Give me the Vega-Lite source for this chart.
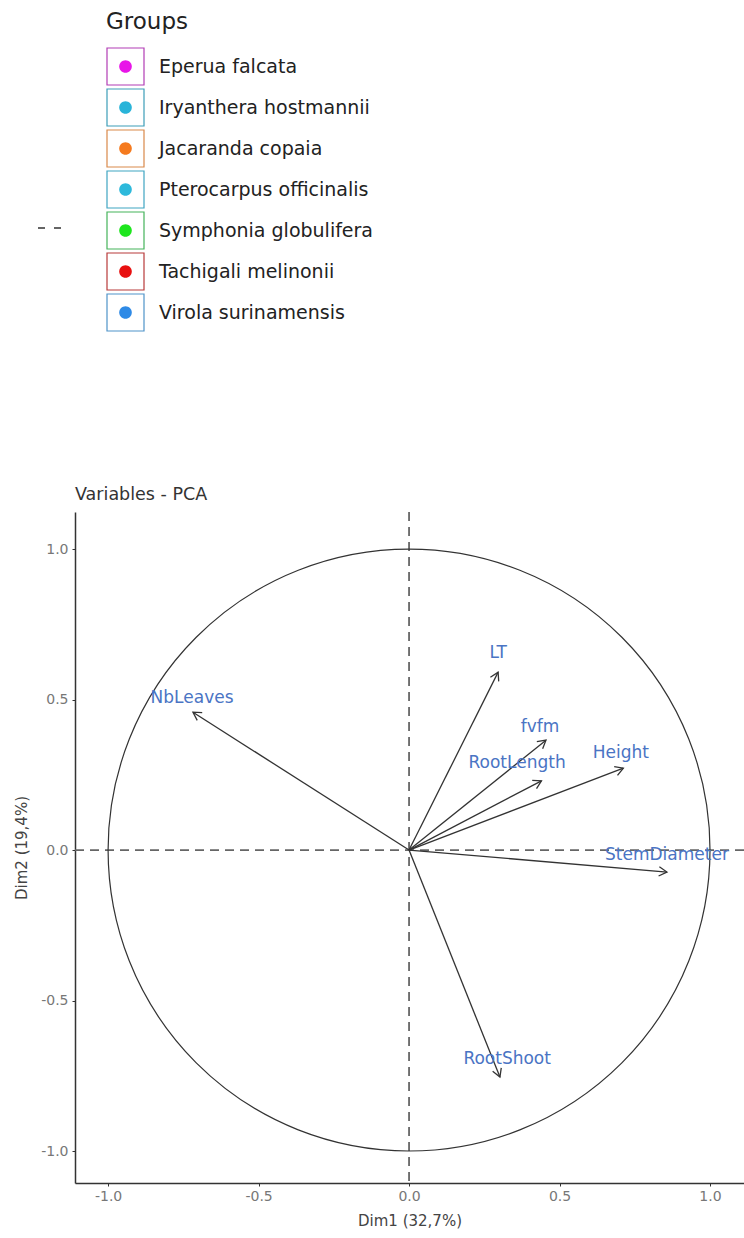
{
  "$schema": "https://vega.github.io/schema/vega-lite/v6.json",
  "autosize": {"type": "none"},
  "padding": {"left": 75, "top": 512, "right": 0, "bottom": 55},
  "width": 669,
  "height": 671,
  "background": "white",
  "title": {"text": "Variables - PCA", "anchor": "start", "frame": "group", "font": "DejaVu Sans", "fontSize": 17.5, "fontWeight": "normal", "color": "#333333", "baseline": "alphabetic", "offset": 11, "dy": 517},
  "datasets": {
    "vars": [
      {"variable": "NbLeaves", "x": -0.718, "y": 0.458, "label_x": -0.721, "label_y": 0.505},
      {"variable": "LT", "x": 0.296, "y": 0.591, "label_x": 0.296, "label_y": 0.654},
      {"variable": "fvfm", "x": 0.455, "y": 0.365, "label_x": 0.435, "label_y": 0.409},
      {"variable": "RootLength", "x": 0.44, "y": 0.23, "label_x": 0.359, "label_y": 0.289},
      {"variable": "Height", "x": 0.712, "y": 0.272, "label_x": 0.704, "label_y": 0.322},
      {"variable": "StemDiameter", "x": 0.857, "y": -0.073, "label_x": 0.857, "label_y": -0.017},
      {"variable": "RootShoot", "x": 0.302, "y": -0.754, "label_x": 0.326, "label_y": -0.694}
    ],
    "groups": [
      {"group": "Eperua falcata"},
      {"group": "Iryanthera hostmannii"},
      {"group": "Jacaranda copaia"},
      {"group": "Pterocarpus officinalis"},
      {"group": "Symphonia globulifera"},
      {"group": "Tachigali melinonii"},
      {"group": "Virola surinamensis"}
    ],
    "linetype": [{"linetype": "dashed"}],
    "origin": [{"x": 0, "y": 0}]
  },
  "layer": [
    {
      "data": {"name": "origin"},
      "mark": {"type": "rule", "strokeDash": [9, 6], "color": "#666666", "strokeWidth": 1.8},
      "encoding": {
        "x": {"field": "x", "type": "quantitative", "scale": {"domain": [-1.11, 1.113], "nice": false, "zero": false},
          "axis": {"values": [-1, -0.5, 0, 0.5, 1], "labelExpr": "datum.value < 0 ? '-' + format(-datum.value, '.1f') : format(datum.value, '.1f')", "grid": false, "domainColor": "#333333", "domainWidth": 1.5, "ticks": true, "tickSize": 3, "tickColor": "#333333", "labelFont": "DejaVu Sans", "labelFontSize": 14, "labelColor": "#777777", "labelPadding": 3, "title": "Dim1 (32,7%)", "titleFont": "DejaVu Sans", "titleFontSize": 15, "titleFontWeight": "normal", "titleColor": "#444444", "titlePadding": 10}}
      }
    },
    {
      "data": {"name": "origin"},
      "mark": {"type": "rule", "strokeDash": [9, 6], "color": "#666666", "strokeWidth": 1.8},
      "encoding": {
        "y": {"field": "y", "type": "quantitative", "scale": {"domain": [-1.106, 1.123], "nice": false, "zero": false},
          "axis": {"values": [-1, -0.5, 0, 0.5, 1], "labelExpr": "datum.value < 0 ? '-' + format(-datum.value, '.1f') : format(datum.value, '.1f')", "grid": false, "domainColor": "#333333", "domainWidth": 1.5, "ticks": true, "tickSize": 3, "tickColor": "#333333", "labelFont": "DejaVu Sans", "labelFontSize": 14, "labelColor": "#777777", "labelPadding": 4, "title": "Dim2 (19,4%)", "titleFont": "DejaVu Sans", "titleFontSize": 15, "titleFontWeight": "normal", "titleColor": "#444444", "titlePadding": 11}}
      }
    },
    {
      "data": {"name": "origin"},
      "mark": {"type": "point", "shape": "circle", "filled": false, "stroke": "#333333", "strokeWidth": 1.2, "opacity": 1, "size": 362300},
      "encoding": {
        "x": {"field": "x", "type": "quantitative", "scale": {"domain": [-1.11, 1.113], "nice": false, "zero": false},
          "axis": {"values": [-1, -0.5, 0, 0.5, 1], "labelExpr": "datum.value < 0 ? '-' + format(-datum.value, '.1f') : format(datum.value, '.1f')", "grid": false, "domainColor": "#333333", "domainWidth": 1.5, "ticks": true, "tickSize": 3, "tickColor": "#333333", "labelFont": "DejaVu Sans", "labelFontSize": 14, "labelColor": "#777777", "labelPadding": 3, "title": "Dim1 (32,7%)", "titleFont": "DejaVu Sans", "titleFontSize": 15, "titleFontWeight": "normal", "titleColor": "#444444", "titlePadding": 10}},
        "y": {"field": "y", "type": "quantitative", "scale": {"domain": [-1.106, 1.123], "nice": false, "zero": false},
          "axis": {"values": [-1, -0.5, 0, 0.5, 1], "labelExpr": "datum.value < 0 ? '-' + format(-datum.value, '.1f') : format(datum.value, '.1f')", "grid": false, "domainColor": "#333333", "domainWidth": 1.5, "ticks": true, "tickSize": 3, "tickColor": "#333333", "labelFont": "DejaVu Sans", "labelFontSize": 14, "labelColor": "#777777", "labelPadding": 4, "title": "Dim2 (19,4%)", "titleFont": "DejaVu Sans", "titleFontSize": 15, "titleFontWeight": "normal", "titleColor": "#444444", "titlePadding": 11}}
      }
    },
    {
      "data": {"name": "vars"},
      "mark": {"type": "rule", "color": "#333333", "strokeWidth": 1.3},
      "encoding": {
        "x": {"field": "x", "type": "quantitative", "scale": {"domain": [-1.11, 1.113], "nice": false, "zero": false},
          "axis": {"values": [-1, -0.5, 0, 0.5, 1], "labelExpr": "datum.value < 0 ? '-' + format(-datum.value, '.1f') : format(datum.value, '.1f')", "grid": false, "domainColor": "#333333", "domainWidth": 1.5, "ticks": true, "tickSize": 3, "tickColor": "#333333", "labelFont": "DejaVu Sans", "labelFontSize": 14, "labelColor": "#777777", "labelPadding": 3, "title": "Dim1 (32,7%)", "titleFont": "DejaVu Sans", "titleFontSize": 15, "titleFontWeight": "normal", "titleColor": "#444444", "titlePadding": 10}},
        "y": {"field": "y", "type": "quantitative", "scale": {"domain": [-1.106, 1.123], "nice": false, "zero": false},
          "axis": {"values": [-1, -0.5, 0, 0.5, 1], "labelExpr": "datum.value < 0 ? '-' + format(-datum.value, '.1f') : format(datum.value, '.1f')", "grid": false, "domainColor": "#333333", "domainWidth": 1.5, "ticks": true, "tickSize": 3, "tickColor": "#333333", "labelFont": "DejaVu Sans", "labelFontSize": 14, "labelColor": "#777777", "labelPadding": 4, "title": "Dim2 (19,4%)", "titleFont": "DejaVu Sans", "titleFontSize": 15, "titleFontWeight": "normal", "titleColor": "#444444", "titlePadding": 11}},
        "x2": {"datum": 0},
        "y2": {"datum": 0}
      }
    },
    {
      "data": {"name": "vars"},
      "transform": [{"calculate": "atan2(datum.x, datum.y) * 180 / PI", "as": "angle"}],
      "mark": {"type": "point", "shape": "M-0.58,1L0,0L0.58,1", "filled": false, "stroke": "#333333", "strokeWidth": 1.3, "size": 256, "opacity": 1},
      "encoding": {
        "x": {"field": "x", "type": "quantitative", "scale": {"domain": [-1.11, 1.113], "nice": false, "zero": false},
          "axis": {"values": [-1, -0.5, 0, 0.5, 1], "labelExpr": "datum.value < 0 ? '-' + format(-datum.value, '.1f') : format(datum.value, '.1f')", "grid": false, "domainColor": "#333333", "domainWidth": 1.5, "ticks": true, "tickSize": 3, "tickColor": "#333333", "labelFont": "DejaVu Sans", "labelFontSize": 14, "labelColor": "#777777", "labelPadding": 3, "title": "Dim1 (32,7%)", "titleFont": "DejaVu Sans", "titleFontSize": 15, "titleFontWeight": "normal", "titleColor": "#444444", "titlePadding": 10}},
        "y": {"field": "y", "type": "quantitative", "scale": {"domain": [-1.106, 1.123], "nice": false, "zero": false},
          "axis": {"values": [-1, -0.5, 0, 0.5, 1], "labelExpr": "datum.value < 0 ? '-' + format(-datum.value, '.1f') : format(datum.value, '.1f')", "grid": false, "domainColor": "#333333", "domainWidth": 1.5, "ticks": true, "tickSize": 3, "tickColor": "#333333", "labelFont": "DejaVu Sans", "labelFontSize": 14, "labelColor": "#777777", "labelPadding": 4, "title": "Dim2 (19,4%)", "titleFont": "DejaVu Sans", "titleFontSize": 15, "titleFontWeight": "normal", "titleColor": "#444444", "titlePadding": 11}},
        "angle": {"field": "angle", "type": "quantitative", "scale": null}
      }
    },
    {
      "data": {"name": "vars"},
      "mark": {"type": "text", "font": "DejaVu Sans", "fontSize": 17, "color": "#4A74C4", "baseline": "middle", "align": "center"},
      "encoding": {
        "x": {"field": "label_x", "type": "quantitative", "scale": {"domain": [-1.11, 1.113], "nice": false, "zero": false},
          "axis": {"values": [-1, -0.5, 0, 0.5, 1], "labelExpr": "datum.value < 0 ? '-' + format(-datum.value, '.1f') : format(datum.value, '.1f')", "grid": false, "domainColor": "#333333", "domainWidth": 1.5, "ticks": true, "tickSize": 3, "tickColor": "#333333", "labelFont": "DejaVu Sans", "labelFontSize": 14, "labelColor": "#777777", "labelPadding": 3, "title": "Dim1 (32,7%)", "titleFont": "DejaVu Sans", "titleFontSize": 15, "titleFontWeight": "normal", "titleColor": "#444444", "titlePadding": 10}},
        "y": {"field": "label_y", "type": "quantitative", "scale": {"domain": [-1.106, 1.123], "nice": false, "zero": false},
          "axis": {"values": [-1, -0.5, 0, 0.5, 1], "labelExpr": "datum.value < 0 ? '-' + format(-datum.value, '.1f') : format(datum.value, '.1f')", "grid": false, "domainColor": "#333333", "domainWidth": 1.5, "ticks": true, "tickSize": 3, "tickColor": "#333333", "labelFont": "DejaVu Sans", "labelFontSize": 14, "labelColor": "#777777", "labelPadding": 4, "title": "Dim2 (19,4%)", "titleFont": "DejaVu Sans", "titleFontSize": 15, "titleFontWeight": "normal", "titleColor": "#444444", "titlePadding": 11}},
        "text": {"field": "variable"}
      }
    },
    {
      "data": {"name": "groups"},
      "mark": {"type": "point", "shape": "square", "filled": false, "opacity": 0},
      "encoding": {
        "stroke": {"field": "group", "type": "nominal",
          "scale": {"domain": ["Eperua falcata", "Iryanthera hostmannii", "Jacaranda copaia", "Pterocarpus officinalis", "Symphonia globulifera", "Tachigali melinonii", "Virola surinamensis"],
                    "range": ["#B23DB5", "#3C9DB8", "#D9894A", "#3FA5C2", "#45B35A", "#B83A3A", "#4F93C9"]},
          "legend": {"orient": "none", "legendX": 31, "legendY": -501, "title": "Groups", "titleFont": "DejaVu Sans", "titleFontSize": 23, "titleFontWeight": "normal", "titleColor": "#222222", "titlePadding": 13,
            "labelFont": "DejaVu Sans", "labelFontSize": 19, "labelColor": "#222222", "labelOffset": 14, "labelLimit": 400,
            "symbolType": "square", "symbolSize": 1369, "symbolStrokeWidth": 1.2, "symbolOpacity": 1, "rowPadding": -2, "padding": 0,
            "encode": {"symbols": {"update": {"fill": {"scale": "color", "field": "value"}, "fillOpacity": {"value": 0.1}, "strokeOpacity": {"value": 1}, "opacity": {"value": 1}}}}}}
      }
    },
    {
      "data": {"name": "groups"},
      "mark": {"type": "point", "shape": "M-1,-1M1,1M-0.34,0A0.34,0.34,0,1,0,0.34,0A0.34,0.34,0,1,0,-0.34,0Z", "filled": true, "opacity": 0},
      "encoding": {
        "color": {"field": "group", "type": "nominal",
          "scale": {"range": ["#E815E8", "#29B4D9", "#F57A1E", "#2DB9DB", "#1EE61E", "#E81010", "#2E8AE6"]},
          "legend": {"orient": "none", "legendX": 31, "legendY": -501, "title": "Groups", "titleFont": "DejaVu Sans", "titleFontSize": 23, "titleFontWeight": "normal", "titleOpacity": 0, "titlePadding": 13,
            "labelFont": "DejaVu Sans", "labelFontSize": 19, "labelOpacity": 0, "labelOffset": 14, "labelLimit": 400,
            "symbolType": "M-1,-1M1,1M-0.34,0A0.34,0.34,0,1,0,0.34,0A0.34,0.34,0,1,0,-0.34,0Z", "symbolSize": 1369, "symbolStrokeWidth": 1.2, "symbolStrokeColor": "transparent", "symbolOpacity": 1, "rowPadding": -2, "padding": 0,
            "encode": {"symbols": {"update": {"stroke": {"value": "transparent"}, "fillOpacity": {"value": 1}, "opacity": {"value": 1}}}}}}
      }
    },
    {
      "data": {"name": "linetype"},
      "mark": {"type": "point", "shape": "stroke", "filled": false, "stroke": "#333333", "opacity": 0},
      "encoding": {
        "strokeDash": {"field": "linetype", "type": "nominal", "scale": {"range": [[7, 9]]},
          "legend": {"orient": "none", "legendX": -38, "legendY": -296.5, "title": null, "symbolType": "stroke", "symbolSize": 529, "symbolStrokeColor": "#333333", "symbolStrokeWidth": 1.5, "symbolOpacity": 1, "labelExpr": "''", "padding": 0}}
      }
    }
  ],
  "config": {"view": {"stroke": null}}
}
